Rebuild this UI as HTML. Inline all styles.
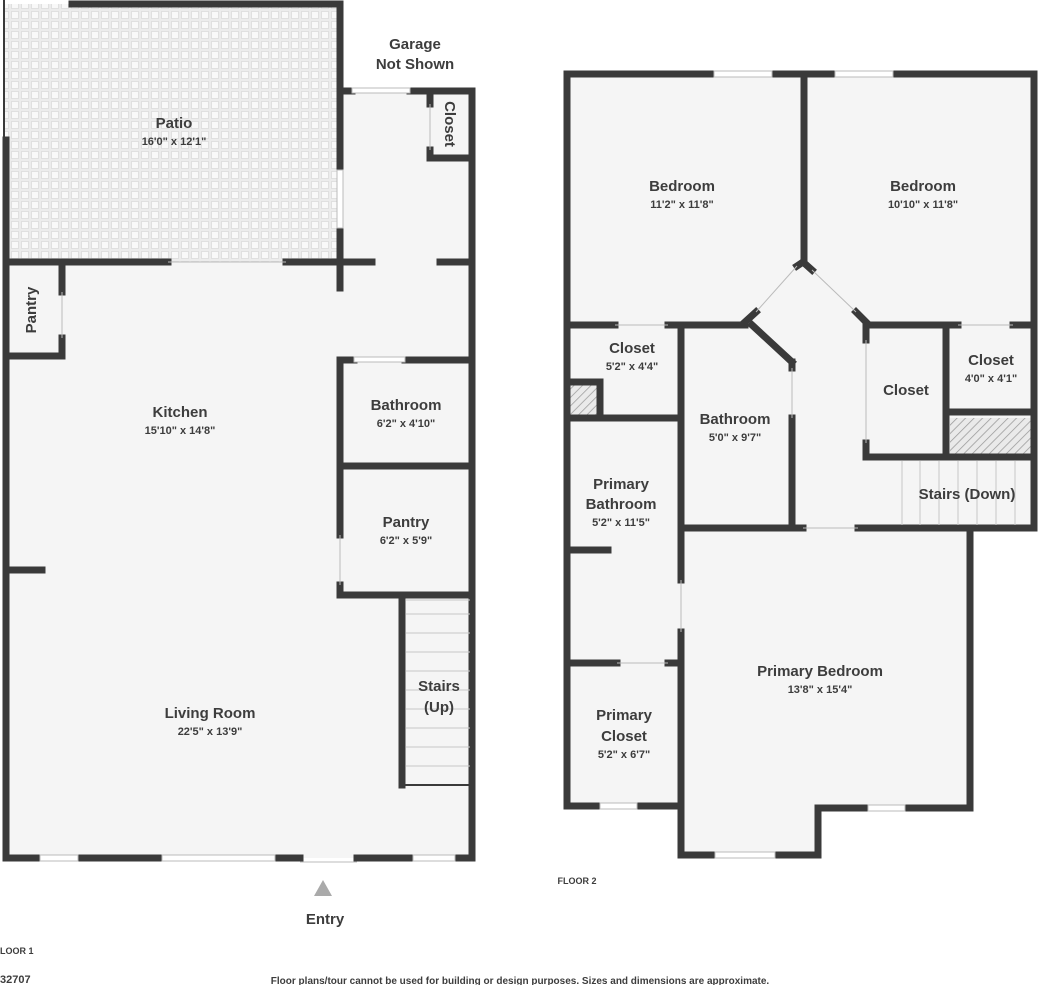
<!DOCTYPE html>
<html><head><meta charset="utf-8"><style>
body{margin:0;background:#fff;width:1041px;height:985px;overflow:hidden}
svg{display:block}
text{font-family:"Liberation Sans",sans-serif;fill:#3d3d3d;text-anchor:middle}
.n{font-size:15px;font-weight:bold}
.d{font-size:11px;font-weight:bold}
</style></head><body>
<svg width="1041" height="985" viewBox="0 0 1041 985">
<defs>
<pattern id="tile" width="10" height="10" patternUnits="userSpaceOnUse">
<rect width="10" height="10" fill="#ececec"/><rect x="1.5" y="1.5" width="7" height="7" fill="#f9f9f9" stroke="#dcdcdc" stroke-width="0.8"/>
</pattern>
<pattern id="hatch" width="6" height="6" patternUnits="userSpaceOnUse" patternTransform="rotate(45)">
<rect width="6" height="6" fill="#eaeaea"/><line x1="0" y1="0" x2="0" y2="6" stroke="#999" stroke-width="1.5"/>
</pattern>
</defs>
<rect x="4" y="4" width="337" height="258" fill="url(#tile)"/>
<rect x="340" y="91" width="132" height="171" fill="#f5f5f5"/>
<rect x="6" y="262" width="466" height="596" fill="#f5f5f5"/>
<g stroke="#3a3a3a" stroke-width="7" fill="none" stroke-linecap="square">
<line x1="72" y1="4" x2="340" y2="4"/>
<line x1="340" y1="4" x2="340" y2="170"/><line x1="340" y1="228" x2="340" y2="288"/>
<line x1="6" y1="140" x2="6" y2="858"/>
<line x1="6" y1="858" x2="40" y2="858"/><line x1="78" y1="858" x2="162" y2="858"/><line x1="275" y1="858" x2="300" y2="858"/><line x1="357" y1="858" x2="413" y2="858"/><line x1="455" y1="858" x2="472" y2="858"/>
<line x1="472" y1="91" x2="472" y2="858"/>
<line x1="340" y1="91" x2="352" y2="91"/><line x1="410" y1="91" x2="472" y2="91"/>
<line x1="430" y1="91" x2="430" y2="104"/><line x1="430" y1="150" x2="430" y2="158"/><line x1="430" y1="158" x2="472" y2="158"/>
<line x1="6" y1="262" x2="168" y2="262"/><line x1="286" y1="262" x2="372" y2="262"/><line x1="440" y1="262" x2="472" y2="262"/>
<line x1="62" y1="262" x2="62" y2="292"/><line x1="62" y1="338" x2="62" y2="356"/><line x1="6" y1="356" x2="62" y2="356"/>
<line x1="340" y1="360" x2="354" y2="360"/><line x1="405" y1="360" x2="472" y2="360"/>
<line x1="340" y1="360" x2="340" y2="535"/><line x1="340" y1="585" x2="340" y2="595"/>
<line x1="340" y1="466" x2="472" y2="466"/>
<line x1="340" y1="595" x2="472" y2="595"/>
<line x1="402" y1="595" x2="402" y2="785"/>
<line x1="6" y1="570" x2="42" y2="570"/>
</g>
<line x1="4" y1="0" x2="4" y2="140" stroke="#3a3a3a" stroke-width="2"/>
<g stroke="#bbb" stroke-width="1">
<rect x="40" y="855" width="38" height="6" fill="#fff"/><rect x="162" y="855" width="113" height="6" fill="#fff"/><rect x="413" y="855" width="42" height="6" fill="#fff"/>
<rect x="337" y="170" width="6" height="58" fill="#fff"/>
<rect x="352" y="88" width="58" height="5" fill="#fff"/>
<rect x="354" y="357" width="51" height="5" fill="#fff"/>
<line x1="168" y1="262" x2="286" y2="262"/>
<line x1="340" y1="535" x2="340" y2="585"/>
<line x1="300" y1="862" x2="357" y2="862"/>
<line x1="430" y1="104" x2="430" y2="150"/>
<line x1="62" y1="292" x2="62" y2="338"/>
</g>
<g stroke="#c8c8c8" stroke-width="1">
<line x1="406" y1="614" x2="470" y2="614"/><line x1="406" y1="633" x2="470" y2="633"/><line x1="406" y1="652" x2="470" y2="652"/><line x1="406" y1="671" x2="470" y2="671"/><line x1="406" y1="690" x2="470" y2="690"/><line x1="406" y1="709" x2="470" y2="709"/><line x1="406" y1="728" x2="470" y2="728"/><line x1="406" y1="747" x2="470" y2="747"/><line x1="406" y1="766" x2="470" y2="766"/><line x1="406" y1="600" x2="470" y2="600"/>
</g>
<line x1="402" y1="785" x2="472" y2="785" stroke="#3a3a3a" stroke-width="2"/>
<polygon points="323,880 314,896 332,896" fill="#aaa"/>

<rect x="567" y="74" width="467" height="456" fill="#f5f5f5"/>
<rect x="567" y="528" width="403" height="280" fill="#f5f5f5"/>
<rect x="681" y="800" width="137" height="55" fill="#f5f5f5"/>
<rect x="569" y="382" width="30" height="34" fill="url(#hatch)"/>
<rect x="950" y="418" width="82" height="38" fill="url(#hatch)"/>
<g stroke="#3a3a3a" stroke-width="7" fill="none" stroke-linecap="square">
<line x1="567" y1="74" x2="714" y2="74"/><line x1="772" y1="74" x2="835" y2="74"/><line x1="893" y1="74" x2="1034" y2="74"/>
<line x1="567" y1="74" x2="567" y2="806"/>
<line x1="1034" y1="74" x2="1034" y2="528"/>
<line x1="804" y1="74" x2="804" y2="258"/>
<line x1="797" y1="266" x2="803" y2="262"/><line x1="803" y1="262" x2="812" y2="270"/>
<line x1="745" y1="322" x2="756" y2="312"/><line x1="856" y1="312" x2="866" y2="322"/>
<line x1="567" y1="325" x2="615" y2="325"/><line x1="668" y1="325" x2="745" y2="325"/>
<line x1="752" y1="325" x2="792" y2="362"/><line x1="792" y1="362" x2="792" y2="368"/>
<line x1="792" y1="418" x2="792" y2="528"/>
<line x1="866" y1="325" x2="958" y2="325"/><line x1="1013" y1="325" x2="1034" y2="325"/>
<line x1="681" y1="325" x2="681" y2="580"/><line x1="681" y1="632" x2="681" y2="855"/>
<line x1="567" y1="418" x2="681" y2="418"/>
<line x1="567" y1="382" x2="600" y2="382"/><line x1="600" y1="382" x2="600" y2="418"/>
<line x1="866" y1="325" x2="866" y2="340"/><line x1="866" y1="443" x2="866" y2="457"/>
<line x1="866" y1="457" x2="1034" y2="457"/>
<line x1="946" y1="325" x2="946" y2="457"/>
<line x1="946" y1="412" x2="1034" y2="412"/>
<line x1="681" y1="528" x2="803" y2="528"/><line x1="858" y1="528" x2="1034" y2="528"/>
<line x1="970" y1="528" x2="970" y2="808"/>
<line x1="905" y1="808" x2="970" y2="808"/><line x1="818" y1="808" x2="868" y2="808"/>
<line x1="818" y1="808" x2="818" y2="855"/>
<line x1="681" y1="855" x2="715" y2="855"/><line x1="775" y1="855" x2="818" y2="855"/>
<line x1="567" y1="550" x2="608" y2="550"/>
<line x1="567" y1="663" x2="617" y2="663"/><line x1="668" y1="663" x2="681" y2="663"/>
<line x1="567" y1="806" x2="600" y2="806"/><line x1="637" y1="806" x2="681" y2="806"/>
</g>
<g stroke="#bbb" stroke-width="1" fill="#fff">
<rect x="714" y="71" width="58" height="6"/><rect x="835" y="71" width="58" height="6"/>
<rect x="715" y="852" width="60" height="6"/><rect x="868" y="805" width="37" height="6"/><rect x="600" y="803" width="37" height="6"/>
<line x1="756" y1="312" x2="797" y2="266"/><line x1="812" y1="270" x2="856" y2="312"/>
<line x1="615" y1="325" x2="668" y2="325"/><line x1="958" y1="325" x2="1013" y2="325"/>
<line x1="792" y1="368" x2="792" y2="418"/><line x1="866" y1="340" x2="866" y2="443"/>
<line x1="803" y1="528" x2="858" y2="528"/><line x1="681" y1="580" x2="681" y2="632"/>
<line x1="617" y1="663" x2="668" y2="663"/>
</g>
<g stroke="#c8c8c8" stroke-width="1">
<line x1="902" y1="461" x2="902" y2="525"/><line x1="920" y1="461" x2="920" y2="525"/><line x1="939" y1="461" x2="939" y2="525"/><line x1="958" y1="461" x2="958" y2="525"/><line x1="977" y1="461" x2="977" y2="525"/><line x1="996" y1="461" x2="996" y2="525"/><line x1="1015" y1="461" x2="1015" y2="525"/>
</g>

<text class="n" x="415" y="49">Garage</text><text class="n" x="415" y="69">Not Shown</text>
<text class="n" x="174" y="128">Patio</text><text class="d" x="174" y="145">16'0" x 12'1"</text>
<text class="n" transform="translate(445,124) rotate(90)">Closet</text>
<text class="n" transform="translate(36,310) rotate(-90)">Pantry</text>
<text class="n" x="180" y="417">Kitchen</text><text class="d" x="180" y="434">15'10" x 14'8"</text>
<text class="n" x="406" y="410">Bathroom</text><text class="d" x="406" y="427">6'2" x 4'10"</text>
<text class="n" x="406" y="527">Pantry</text><text class="d" x="406" y="544">6'2" x 5'9"</text>
<text class="n" x="439" y="691">Stairs</text><text class="n" x="439" y="712">(Up)</text>
<text class="n" x="210" y="718">Living Room</text><text class="d" x="210" y="735">22'5" x 13'9"</text>
<text class="n" x="325" y="924">Entry</text>
<text style="font-size:9px;font-weight:bold;text-anchor:start" x="0" y="954">LOOR 1</text>
<text style="font-size:11px;font-weight:bold;text-anchor:start" x="0" y="983">32707</text>
<text style="font-size:10px;font-weight:bold" x="520" y="984">Floor plans/tour cannot be used for building or design purposes. Sizes and dimensions are approximate.</text>
<text class="n" x="682" y="191">Bedroom</text><text class="d" x="682" y="208">11'2" x 11'8"</text>
<text class="n" x="923" y="191">Bedroom</text><text class="d" x="923" y="208">10'10" x 11'8"</text>
<text class="n" x="632" y="353">Closet</text><text class="d" x="632" y="370">5'2" x 4'4"</text>
<text class="n" x="735" y="424">Bathroom</text><text class="d" x="735" y="441">5'0" x 9'7"</text>
<text class="n" x="906" y="395">Closet</text>
<text class="n" x="991" y="365">Closet</text><text class="d" x="991" y="382">4'0" x 4'1"</text>
<text class="n" x="967" y="499">Stairs (Down)</text>
<text class="n" x="621" y="489">Primary</text><text class="n" x="621" y="509">Bathroom</text><text class="d" x="621" y="526">5'2" x 11'5"</text>
<text class="n" x="820" y="676">Primary Bedroom</text><text class="d" x="820" y="693">13'8" x 15'4"</text>
<text class="n" x="624" y="720">Primary</text><text class="n" x="624" y="741">Closet</text><text class="d" x="624" y="758">5'2" x 6'7"</text>
<text style="font-size:9px;font-weight:bold" x="577" y="884">FLOOR 2</text>
</svg>
</body></html>
